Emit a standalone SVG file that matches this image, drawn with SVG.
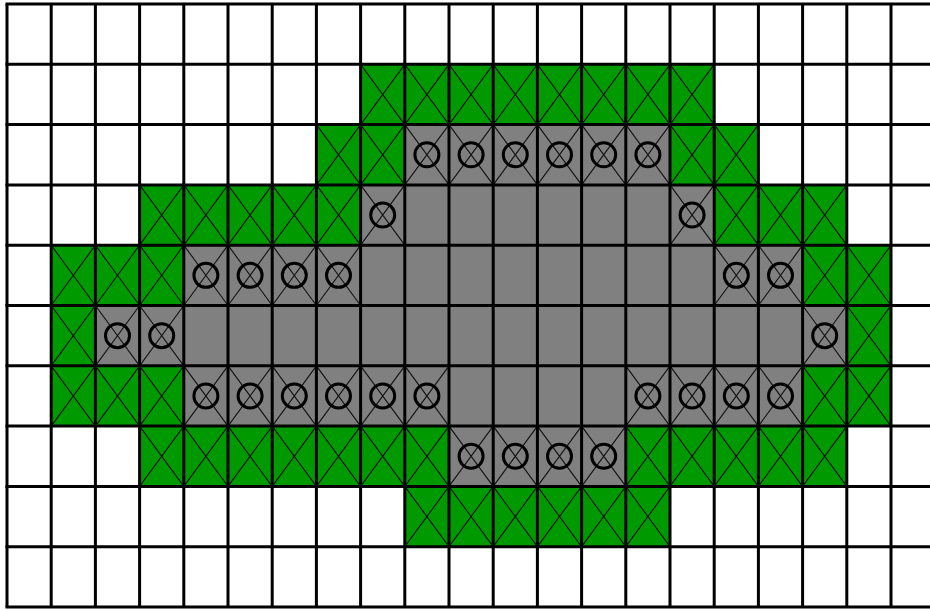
<svg xmlns="http://www.w3.org/2000/svg" xmlns:xlink="http://www.w3.org/1999/xlink" width="930" height="610" viewBox="0 0 930 610">
<style>
.g{fill:#009900}
.p{fill:#808080}
.x{stroke:#111;stroke-width:1.1;fill:none}
.o{stroke:#000;stroke-width:3;fill:none}
.grid{stroke:#000;stroke-width:3;fill:none}
</style>
<defs>
<g id="G"><rect class="g" width="44.2" height="60.3"/><path class="x" d="M0 0L44.2 60.3M44.2 0L0 60.3"/></g>
<g id="O"><rect class="p" width="44.2" height="60.3"/><path class="x" d="M0 0L44.2 60.3M44.2 0L0 60.3"/><circle class="o" cx="22.1" cy="30.15" r="12"/></g>
<g id="P"><rect class="p" width="44.2" height="60.3"/></g>
</defs>
<rect width="930" height="610" fill="#fff"/>
<g id="row1">
<use href="#G" x="360.6" y="64.3"/><use href="#G" x="404.8" y="64.3"/><use href="#G" x="449" y="64.3"/><use href="#G" x="493.2" y="64.3"/><use href="#G" x="537.4" y="64.3"/><use href="#G" x="581.6" y="64.3"/><use href="#G" x="625.8" y="64.3"/><use href="#G" x="670" y="64.3"/>
</g>
<g id="row2">
<use href="#G" x="316.4" y="124.6"/><use href="#G" x="360.6" y="124.6"/>
<use href="#O" x="404.8" y="124.6"/><use href="#O" x="449" y="124.6"/><use href="#O" x="493.2" y="124.6"/><use href="#O" x="537.4" y="124.6"/><use href="#O" x="581.6" y="124.6"/><use href="#O" x="625.8" y="124.6"/>
<use href="#G" x="670" y="124.6"/><use href="#G" x="714.2" y="124.6"/>
</g>
<g id="row3">
<use href="#G" x="139.6" y="184.9"/><use href="#G" x="183.8" y="184.9"/><use href="#G" x="228" y="184.9"/><use href="#G" x="272.2" y="184.9"/><use href="#G" x="316.4" y="184.9"/>
<use href="#O" x="360.6" y="184.9"/>
<use href="#P" x="404.8" y="184.9"/><use href="#P" x="449" y="184.9"/><use href="#P" x="493.2" y="184.9"/><use href="#P" x="537.4" y="184.9"/><use href="#P" x="581.6" y="184.9"/><use href="#P" x="625.8" y="184.9"/>
<use href="#O" x="670" y="184.9"/>
<use href="#G" x="714.2" y="184.9"/><use href="#G" x="758.4" y="184.9"/><use href="#G" x="802.6" y="184.9"/>
</g>
<g id="row4">
<use href="#G" x="51.2" y="245.2"/><use href="#G" x="95.4" y="245.2"/><use href="#G" x="139.6" y="245.2"/>
<use href="#O" x="183.8" y="245.2"/><use href="#O" x="228" y="245.2"/><use href="#O" x="272.2" y="245.2"/><use href="#O" x="316.4" y="245.2"/>
<use href="#P" x="360.6" y="245.2"/><use href="#P" x="404.8" y="245.2"/><use href="#P" x="449" y="245.2"/><use href="#P" x="493.2" y="245.2"/><use href="#P" x="537.4" y="245.2"/><use href="#P" x="581.6" y="245.2"/><use href="#P" x="625.8" y="245.2"/><use href="#P" x="670" y="245.2"/>
<use href="#O" x="714.2" y="245.2"/><use href="#O" x="758.4" y="245.2"/>
<use href="#G" x="802.6" y="245.2"/><use href="#G" x="846.8" y="245.2"/>
</g>
<g id="row5">
<use href="#G" x="51.2" y="305.5"/>
<use href="#O" x="95.4" y="305.5"/><use href="#O" x="139.6" y="305.5"/>
<use href="#P" x="183.8" y="305.5"/><use href="#P" x="228" y="305.5"/><use href="#P" x="272.2" y="305.5"/><use href="#P" x="316.4" y="305.5"/><use href="#P" x="360.6" y="305.5"/><use href="#P" x="404.8" y="305.5"/><use href="#P" x="449" y="305.5"/><use href="#P" x="493.2" y="305.5"/><use href="#P" x="537.4" y="305.5"/><use href="#P" x="581.6" y="305.5"/><use href="#P" x="625.8" y="305.5"/><use href="#P" x="670" y="305.5"/><use href="#P" x="714.2" y="305.5"/><use href="#P" x="758.4" y="305.5"/>
<use href="#O" x="802.6" y="305.5"/>
<use href="#G" x="846.8" y="305.5"/>
</g>
<g id="row6">
<use href="#G" x="51.2" y="365.8"/><use href="#G" x="95.4" y="365.8"/><use href="#G" x="139.6" y="365.8"/>
<use href="#O" x="183.8" y="365.8"/><use href="#O" x="228" y="365.8"/><use href="#O" x="272.2" y="365.8"/><use href="#O" x="316.4" y="365.8"/><use href="#O" x="360.6" y="365.8"/><use href="#O" x="404.8" y="365.8"/>
<use href="#P" x="449" y="365.8"/><use href="#P" x="493.2" y="365.8"/><use href="#P" x="537.4" y="365.8"/><use href="#P" x="581.6" y="365.8"/>
<use href="#O" x="625.8" y="365.8"/><use href="#O" x="670" y="365.8"/><use href="#O" x="714.2" y="365.8"/><use href="#O" x="758.4" y="365.8"/>
<use href="#G" x="802.6" y="365.8"/><use href="#G" x="846.8" y="365.8"/>
</g>
<g id="row7">
<use href="#G" x="139.6" y="426.1"/><use href="#G" x="183.8" y="426.1"/><use href="#G" x="228" y="426.1"/><use href="#G" x="272.2" y="426.1"/><use href="#G" x="316.4" y="426.1"/><use href="#G" x="360.6" y="426.1"/><use href="#G" x="404.8" y="426.1"/>
<use href="#O" x="449" y="426.1"/><use href="#O" x="493.2" y="426.1"/><use href="#O" x="537.4" y="426.1"/><use href="#O" x="581.6" y="426.1"/>
<use href="#G" x="625.8" y="426.1"/><use href="#G" x="670" y="426.1"/><use href="#G" x="714.2" y="426.1"/><use href="#G" x="758.4" y="426.1"/><use href="#G" x="802.6" y="426.1"/>
</g>
<g id="row8">
<use href="#G" x="404.8" y="486.4"/><use href="#G" x="449" y="486.4"/><use href="#G" x="493.2" y="486.4"/><use href="#G" x="537.4" y="486.4"/><use href="#G" x="581.6" y="486.4"/><use href="#G" x="625.8" y="486.4"/>
</g>
<g id="gridlines">
<path class="grid" d="M7 4V607M51.2 4V607M95.4 4V607M139.6 4V607M183.8 4V607M228 4V607M272.2 4V607M316.4 4V607M360.6 4V607M404.8 4V607M449 4V607M493.2 4V607M537.4 4V607M581.6 4V607M625.8 4V607M670 4V607M714.2 4V607M758.4 4V607M802.6 4V607M846.8 4V607M891 4V607M935.2 4V607"/>
<path class="grid" d="M5.5 4H936M5.5 64.3H936M5.5 124.6H936M5.5 184.9H936M5.5 245.2H936M5.5 305.5H936M5.5 365.8H936M5.5 426.1H936M5.5 486.4H936M5.5 546.7H936M5.5 607H936"/>
</g>
</svg>
